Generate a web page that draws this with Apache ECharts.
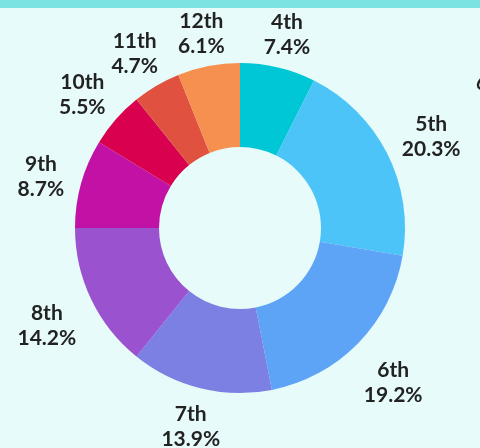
<!DOCTYPE html>
<html>
<head>
<meta charset="utf-8">
<script src="https://cdn.jsdelivr.net/npm/echarts@6/dist/echarts.min.js"></script>
<style>
  html, body { margin: 0; padding: 0; background: #e8fbfb; }
  #main { width: 480px; height: 448px; }
</style>
</head>
<body>
<div id="main"></div>
<script>
// grade shares (%)
const grades = ["4th", "5th", "6th", "7th", "8th", "9th", "10th", "11th", "12th"];
const shares = [7.4, 20.3, 19.2, 13.9, 14.2, 8.7, 5.5, 4.7, 6.1];
const colors = ["#00c7d6", "#4cc4f7", "#5ea4f6", "#7b80e2", "#9a52cf", "#c212a6", "#d9004f", "#e0523f", "#f6904f"];

const cx = 240, cy = 228, outerR = 165, innerR = 81;
const H = 448;

// mid angle of every slice, clockwise from 12 o'clock
const total = shares.reduce((a, b) => a + b, 0);
let acc = 0;
const midAngles = shares.map((v) => {
  const m = ((acc + v / 2) / total) * 2 * Math.PI;
  acc += v;
  return m;
});

const chart = echarts.init(document.getElementById("main"));
chart.setOption({
  backgroundColor: "#e8fbfb",
  animation: false,
  graphic: [
    { type: "rect", shape: { x: 0, y: 0, width: 480, height: 8 }, style: { fill: "#7de3e2" } },
    {
      type: "text", left: 476, top: 74,
      style: { text: "6", fontFamily: "Lato", fontSize: 20, fontWeight: "bold", fill: "#222" },
    },
  ],
  series: [
    {
      type: "pie",
      center: [cx, cy],
      radius: [innerR, outerR],
      startAngle: 90,
      clockwise: true,
      silent: true,
      color: colors,
      data: grades.map((g, i) => ({ name: g, value: shares[i] })),
      label: {
        show: true,
        position: "outside",
        overflow: "none",
        formatter: "{b}\n{c}%",
        fontFamily: "Lato",
        fontSize: 21,
        fontWeight: "bold",
        lineHeight: 25,
        color: "#222",
      },
      labelLine: { show: false },
      labelLayout: function (p) {
        const a = midAngles[p.dataIndex];
        const dx = Math.sin(a), dy = -Math.cos(a);
        const w = p.labelRect.width;
        const r = outerR + 14 + Math.abs(dx) * w / 2 + Math.abs(dy) * 20;
        const x = cx + dx * r;
        // a bit lower than the geometric spot, but kept inside the canvas
        const y = Math.min(cy + dy * r + 5, H - 21);
        return { x: x, y: y, align: "center", verticalAlign: "middle" };
      },
    },
  ],
});
</script>
</body>
</html>
